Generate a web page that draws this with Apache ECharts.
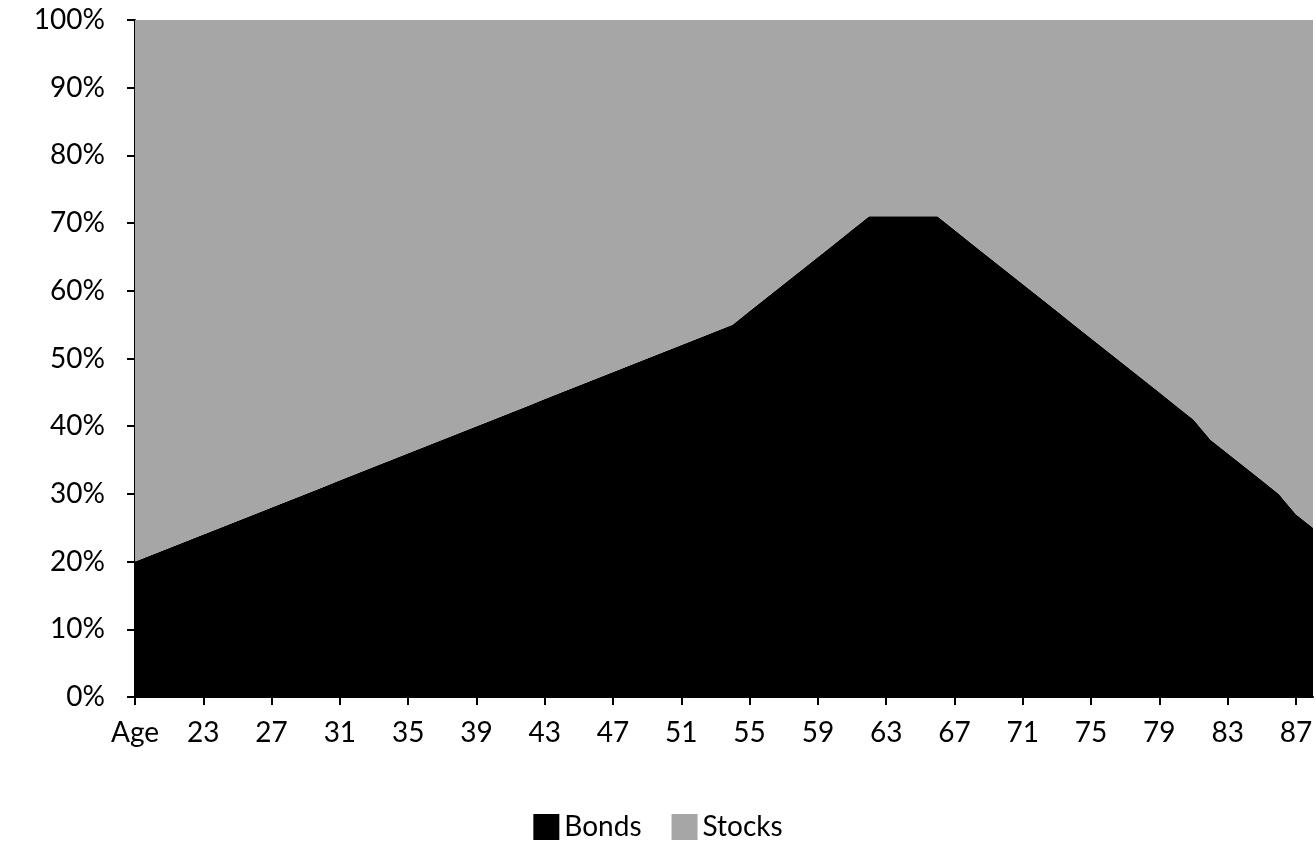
<!DOCTYPE html>
<html><head><meta charset="utf-8">
<script src="https://cdn.jsdelivr.net/npm/echarts@6/dist/echarts.min.js"></script>
<style>html,body{margin:0;padding:0;background:#fff}#c{width:1316px;height:848px}</style>
</head><body><div id="c"></div>
<script>
const categories = ["Age"];
for (let a = 20; a <= 88; a++) categories.push(String(a));
const bonds = [20,21,22,23,24,25,26,27,28,29,30,31,32,33,34,35,36,37,38,39,40,41,42,43,44,45,46,47,48,49,50,51,52,53,54,55,
  57,59,61,63,65,67,69,71,71,71,71,71,
  69,67,65,63,61,59,57,55,53,51,49,47,45,43,41,38,36,34,32,30,27,25];
const stocks = bonds.map(v => 100 - v);
const yTicks = [0,10,20,30,40,50,60,70,80,90,100];
const font = "Lato";
const chart = echarts.init(document.getElementById('c'));
chart.setOption({
  animation:false,
  grid:{left:135,right:3,top:20,bottom:151},
  legend:{bottom:2,left:'center',itemWidth:26,itemHeight:26,itemGap:30,icon:'rect',
    textStyle:{fontFamily:font,fontSize:28,color:'#000'},data:['Bonds','Stocks']},
  xAxis:{type:'category',data:categories,boundaryGap:false,
    axisLine:{lineStyle:{color:'#000',width:2}},
    axisTick:{interval:3,length:8,lineStyle:{color:'#000',width:2}},
    axisLabel:{interval:3,margin:22,fontFamily:font,fontSize:28,color:'#000'}},
  yAxis:{type:'value',min:0,max:100,interval:10,
    axisLine:{show:true,lineStyle:{color:'#000',width:2}},
    axisTick:{show:true,length:8,lineStyle:{color:'#000',width:2}},
    splitLine:{show:false},
    axisLabel:{margin:30,fontFamily:font,fontSize:28,color:'#000',formatter:v=>yTicks.includes(v)?v+'%':''}},
  series:[
    {name:'Bonds',type:'line',stack:'a',data:bonds,symbol:'none',lineStyle:{width:0},
      itemStyle:{color:'#000'},areaStyle:{color:'#000',opacity:1}},
    {name:'Stocks',type:'line',stack:'a',data:stocks,symbol:'none',lineStyle:{width:0},
      itemStyle:{color:'#a6a6a6'},areaStyle:{color:'#a6a6a6',opacity:1}}
  ]
});
</script></body></html>
